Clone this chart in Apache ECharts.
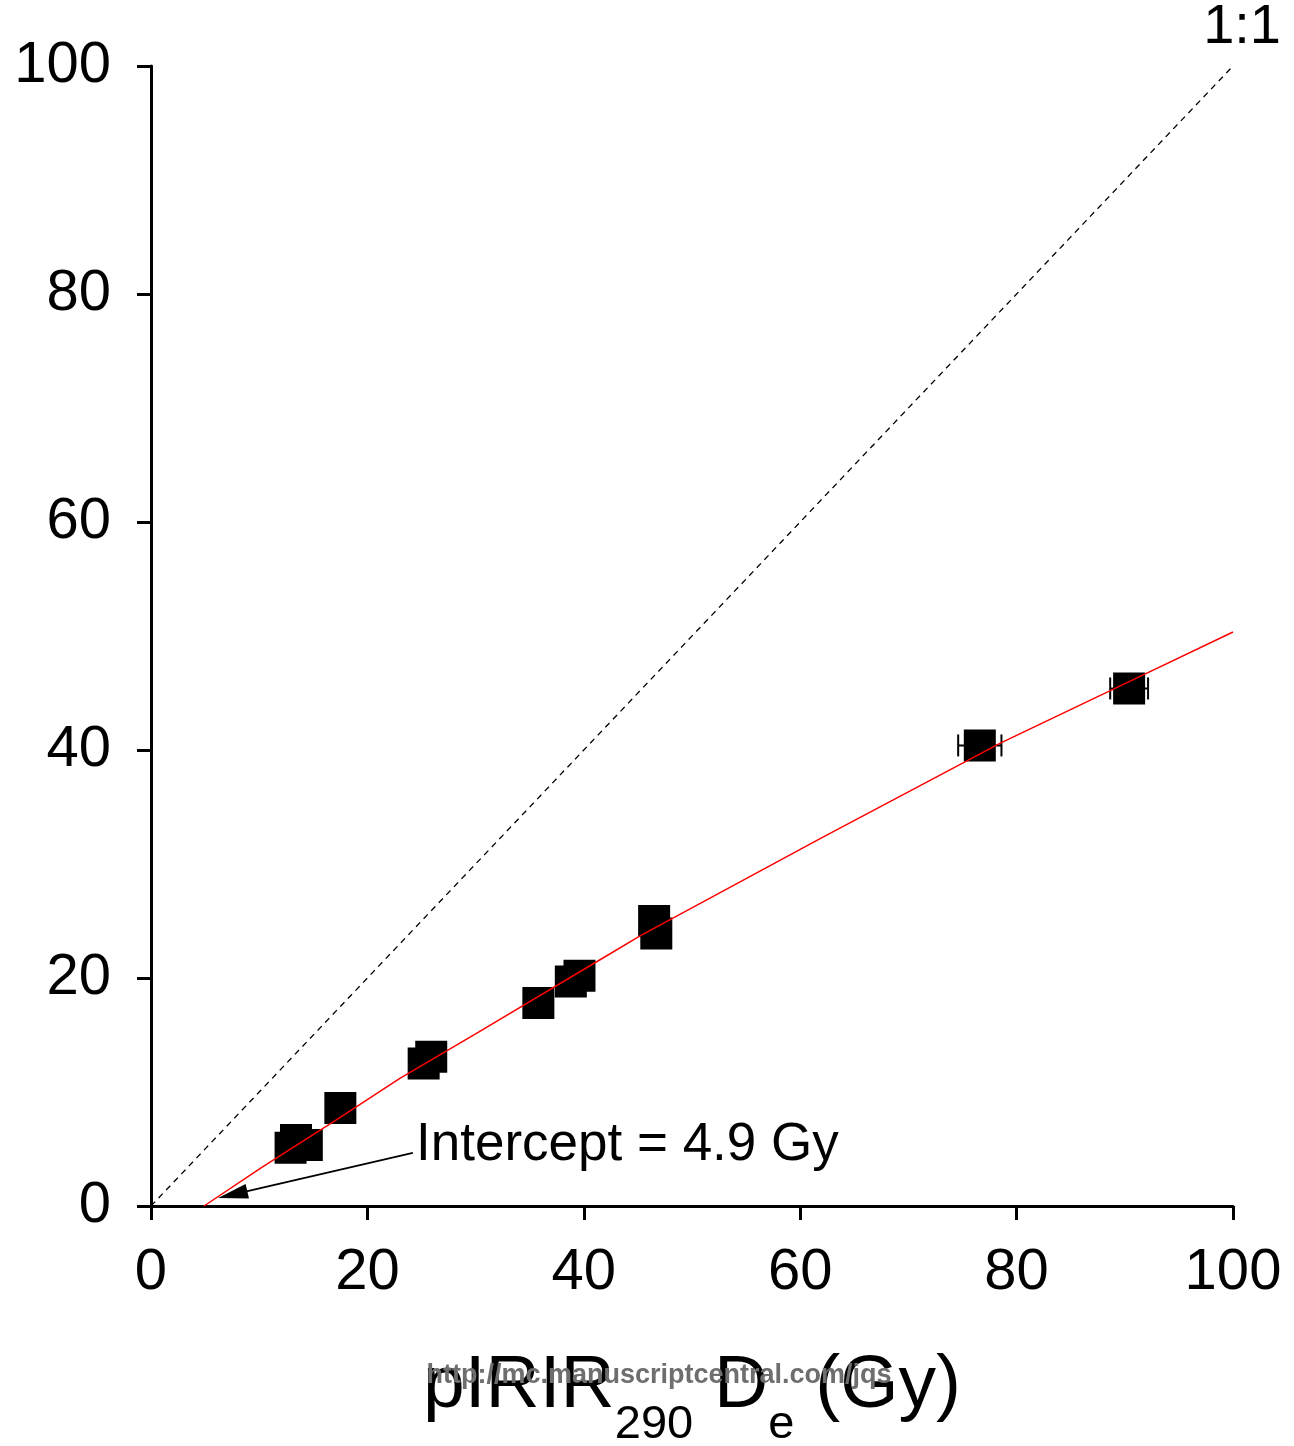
<!DOCTYPE html>
<html>
<head>
<meta charset="utf-8">
<script src="https://cdn.jsdelivr.net/npm/echarts@6/dist/echarts.min.js"></script>
<style>html,body{margin:0;padding:0;background:#fff}#c{width:1294px;height:1446px}</style>
</head>
<body>
<div id="c"></div>
<script>
// Data
var pirirDe = [12.9, 13.4, 14.4, 17.5, 25.2, 25.9, 35.8, 38.8, 39.6, 46.5, 46.7, 76.6, 90.4];
var otherDe = [5.1, 5.8, 5.35, 8.6, 12.5, 13.1, 17.8, 19.7, 20.2, 25.0, 23.9, 40.4, 45.4];
var pirirErr = [0.6, 0.6, 0.6, 0.8, 1.0, 1.0, 1.2, 1.2, 1.2, 1.3, 1.3, 2.0, 1.75];
var oneToOne = [[0, 0], [100, 100]];
var fitX = [4.9, 10.1, 17.2, 23.0, 30.0, 41.5, 45.2, 61.8, 78.5, 90.4, 100];
var fitY = [0, 3.3, 7.6, 11.2, 15.1, 21.6, 23.7, 32.2, 40.6, 46.0, 50.35];
var arrowFrom = [24.2, 4.65];
var arrowTip = [6.2, 0.7];
var xTicks = [0, 20, 40, 60, 80, 100];
var yTicks = [0, 20, 40, 60, 80, 100];

var FONT = '"Liberation Sans", Arial, sans-serif';
var points = pirirDe.map(function (x, i) { return [x, otherDe[i]]; });
var errData = pirirDe.map(function (x, i) { return [x - pirirErr[i], x + pirirErr[i], otherDe[i]]; });
var fitLine = fitX.map(function (x, i) { return [x, fitY[i]]; });

var chart = echarts.init(document.getElementById('c'), null, {renderer: 'canvas'});
chart.setOption({
  animation: false,
  backgroundColor: '#fff',
  grid: {left: 151, right: 61, top: 66, bottom: 240, containLabel: false, outerBoundsMode: 'none'},
  xAxis: {
    type: 'value', min: xTicks[0], max: xTicks[xTicks.length - 1], interval: 20,
    splitLine: {show: false},
    axisLine: {onZero: false, lineStyle: {color: '#000', width: 3}},
    axisTick: {show: true, inside: false, length: 14, lineStyle: {color: '#000', width: 3}},
    axisLabel: {color: '#000', fontSize: 58, fontFamily: FONT, margin: 38},
    name: '{a|pIRIR}{b|290}{a| D}{b|e}{a| (Gy)}',
    nameLocation: 'middle',
    nameGap: 143,
    nameTextStyle: {
      fontFamily: FONT, color: '#000',
      rich: {
        a: {fontSize: 75, fontFamily: FONT, color: '#000', lineHeight: 100, verticalAlign: 'top'},
        b: {fontSize: 47, fontFamily: FONT, color: '#000', lineHeight: 30, verticalAlign: 'bottom'}
      }
    }
  },
  yAxis: {
    type: 'value', min: yTicks[0], max: yTicks[yTicks.length - 1], interval: 20,
    splitLine: {show: false},
    axisLine: {onZero: false, lineStyle: {color: '#000', width: 3}},
    axisTick: {show: true, inside: false, length: 14, lineStyle: {color: '#000', width: 3}},
    axisLabel: {color: '#000', fontSize: 58, fontFamily: FONT, margin: 40}
  },
  series: [
    {
      type: 'line', data: oneToOne, symbol: 'none', silent: true,
      lineStyle: {color: '#000', width: 1.3, type: [6, 5]}
    },
    {
      type: 'custom', silent: true, z: 3,
      data: [[arrowFrom[0], arrowFrom[1], arrowTip[0], arrowTip[1]]],
      renderItem: function (params, api) {
        var a = api.coord([api.value(0), api.value(1)]);
        var t = api.coord([api.value(2), api.value(3)]);
        var dx = a[0] - t[0], dy = a[1] - t[1];
        var len = Math.sqrt(dx * dx + dy * dy);
        var ux = dx / len, uy = dy / len;
        var L = 30, W = 7.5;
        var bx = t[0] + ux * L, by = t[1] + uy * L;
        return {type: 'group', children: [
          {type: 'line', shape: {x1: a[0], y1: a[1], x2: bx - ux * 2, y2: by - uy * 2}, style: {stroke: '#000', lineWidth: 1.8}},
          {type: 'polygon', shape: {points: [[t[0], t[1]], [bx - uy * W, by + ux * W], [bx + uy * W, by - ux * W]]}, style: {fill: '#000'}}
        ]};
      }
    },
    {
      type: 'custom', silent: true, z: 3,
      data: errData,
      renderItem: function (params, api) {
        var l = api.coord([api.value(0), api.value(2)]);
        var r = api.coord([api.value(1), api.value(2)]);
        var h = 11;
        var st = {stroke: '#000', lineWidth: 2};
        return {type: 'group', children: [
          {type: 'line', shape: {x1: l[0], y1: l[1], x2: r[0], y2: r[1]}, style: st},
          {type: 'line', shape: {x1: l[0], y1: l[1] - h, x2: l[0], y2: l[1] + h}, style: st},
          {type: 'line', shape: {x1: r[0], y1: r[1] - h, x2: r[0], y2: r[1] + h}, style: st}
        ]};
      }
    },
    {
      type: 'scatter', data: points, symbol: 'rect', symbolSize: 32, z: 4, silent: true,
      itemStyle: {color: '#000', opacity: 1}
    },
    {
      type: 'line', data: fitLine, symbol: 'none', silent: true, z: 5,
      lineStyle: {color: '#ff0000', width: 1.5}
    }
  ],
  graphic: [
    {type: 'text', x: 1281, y: 56, z: 10,
     style: {text: '1:1', fontSize: 56, fontFamily: FONT, fill: '#000', align: 'right', verticalAlign: 'bottom'}},
    {type: 'text', x: 416, y: 1145, z: 10,
     style: {text: 'Intercept = 4.9 Gy', fontSize: 53, fontFamily: FONT, fill: '#000', align: 'left', verticalAlign: 'middle'}},
    {type: 'text', x: 659, y: 1376, z: 20,
     style: {text: 'http://mc.manuscriptcentral.com/jqs', fontSize: 27, fontWeight: 'bold', fontFamily: FONT, fill: '#6e6e6e', align: 'center', verticalAlign: 'middle'}}
  ]
});
</script>
</body>
</html>
